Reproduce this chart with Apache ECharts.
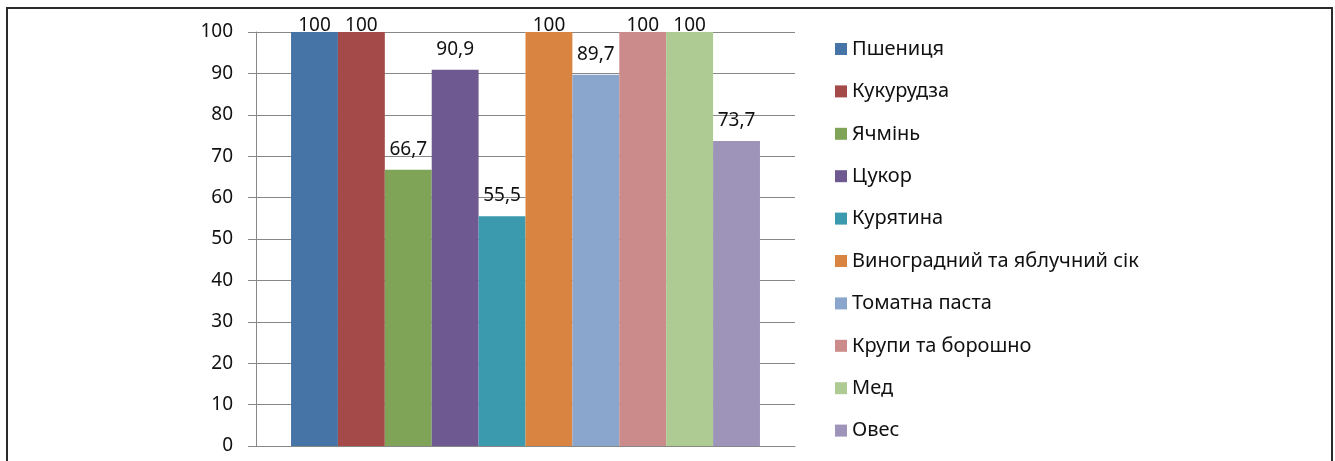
<!DOCTYPE html>
<html>
<head>
<meta charset="utf-8">
<script src="https://cdn.jsdelivr.net/npm/echarts@6/dist/echarts.min.js"></script>
<style>
  html, body { margin: 0; padding: 0; background: #fff; }
  #chart { width: 1335px; height: 461px; }
</style>
</head>
<body>
<div id="chart"></div>
<script>
// products and their values (one bar each)
const names = ['Пшениця', 'Кукурудза', 'Ячмінь', 'Цукор', 'Курятина',
  'Виноградний та яблучний сік', 'Томатна паста', 'Крупи та борошно', 'Мед', 'Овес']
const values = [100, 100, 66.7, 90.9, 55.5, 100, 89.7, 100, 100, 73.7]
const colors = ['#4674a6', '#a44a48', '#80a457', '#6e5a90', '#3b9aae',
  '#da8442', '#8aa6cc', '#cb8b8a', '#afcb94', '#9e94b9']
const yTicks = { min: 0, max: 100, step: 10 }

const font = '"Noto Sans", "Open Sans", sans-serif'
const chart = echarts.init(document.getElementById('chart'))

const series = names.map((name, i) => ({
  name: name,
  type: 'bar',
  data: [values[i]],
  barGap: '0%',
  barCategoryGap: '13%',
  itemStyle: { color: colors[i] },
  label: {
    show: true,
    position: 'top',
    // labels of full bars are squeezed against the plot top, like in Excel
    distance: values[i] >= yTicks.max ? -3 : 11,
    color: '#111',
    fontFamily: font,
    fontSize: 19,
    formatter: p => String(p.value).replace('.', ',')
  }
}))

chart.setOption({
  animation: false,
  textStyle: { fontFamily: font },
  graphic: [{
    type: 'rect',
    shape: { x: 7, y: 8, width: 1325, height: 480 },
    style: { fill: 'none', stroke: '#2a2a2a', lineWidth: 2 }
  }],
  grid: { left: 256, top: 32, width: 539, height: 414 },
  xAxis: {
    type: 'category',
    data: [''],
    axisTick: { show: false },
    axisLabel: { show: false },
    axisLine: { lineStyle: { color: '#888', width: 1 } }
  },
  yAxis: {
    type: 'value',
    min: yTicks.min,
    max: yTicks.max,
    interval: yTicks.step,
    axisLine: { show: true, lineStyle: { color: '#888', width: 1 } },
    axisTick: { show: true, length: 8, lineStyle: { color: '#888' } },
    axisLabel: { color: '#111', fontSize: 19, margin: 23, fontFamily: font },
    splitLine: { lineStyle: { color: '#888', width: 1 } }
  },
  legend: {
    orient: 'vertical',
    left: 830,
    top: 34,
    itemWidth: 12,
    itemHeight: 12,
    itemGap: 22.4,
    icon: 'rect',
    data: names,
    textStyle: { color: '#111', fontSize: 20, lineHeight: 20, fontFamily: font }
  },
  series: series
})
</script>
</body>
</html>
